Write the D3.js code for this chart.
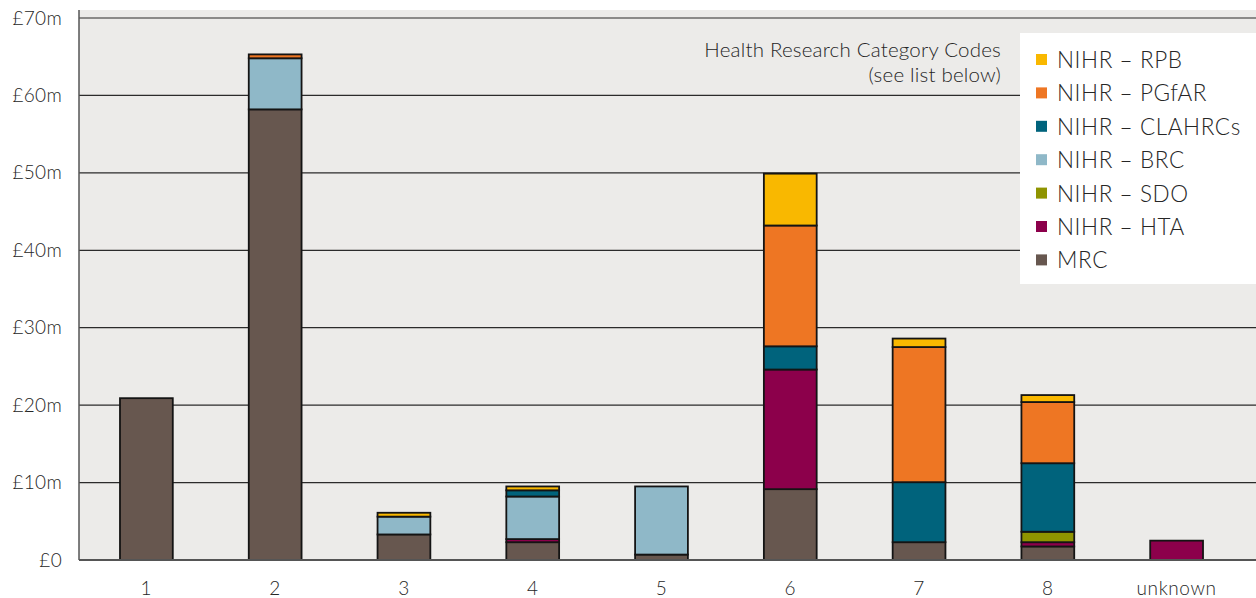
<!DOCTYPE html>
<html>
<head>
<meta charset="utf-8">
<script src="https://cdn.jsdelivr.net/npm/d3@7"></script>
<style>
  html, body { margin: 0; padding: 0; background: #ffffff; }
  svg { display: block; font-family: "Lato", "Open Sans", sans-serif; font-weight: 300; }
</style>
</head>
<body>
<svg id="chart" width="1256" height="598"></svg>
<script>
// Health Research Category Codes
const categories = ["1", "2", "3", "4", "5", "6", "7", "8", "unknown"];

// Funding streams, bottom to top of each stack (£m)
const seriesNames = ["MRC", "NIHR – HTA", "NIHR – SDO", "NIHR – BRC", "NIHR – CLAHRCs", "NIHR – PGfAR", "NIHR – RPB"];
const MRC      = [20.9, 58.2, 3.3, 2.3, 0.7, 9.15, 2.3, 1.75, 0];
const HTA      = [0,    0,    0,   0.4, 0,   15.45, 0,  0.55, 2.5];
const SDO      = [0,    0,    0,   0,   0,   0,    0,   1.35, 0];
const BRC      = [0,    6.6,  2.3, 5.5, 8.8, 0,    0,   0,    0];
const CLAHRCs  = [0,    0,    0,   0.8, 0,   3.0,  7.75, 8.85, 0];
const PGfAR    = [0,    0.5,  0,   0,   0,   15.6, 17.45, 7.9, 0];
const RPB      = [0,    0,    0.5, 0.5, 0,   6.7,  1.1,  0.9, 0];

const seriesValues = [MRC, HTA, SDO, BRC, CLAHRCs, PGfAR, RPB];
const seriesColors = ["#67574f", "#8c004b", "#8f9400", "#8fb8c8", "#00637c", "#ee7623", "#f9b800"];

const yTicks = [0, 10, 20, 30, 40, 50, 60, 70];
const yTickLabels = ["£0", "£10m", "£20m", "£30m", "£40m", "£50m", "£60m", "£70m"];

const legendOrder = ["NIHR – RPB", "NIHR – PGfAR", "NIHR – CLAHRCs", "NIHR – BRC", "NIHR – SDO", "NIHR – HTA", "MRC"];

const svg = d3.select("#chart");
const plotLeft = 79, plotRight = 1256, plotTop = 10, plotBottom = 560;
const textColor = "#262626";

const x = d3.scaleBand().domain(categories).range([82, 1241]).paddingInner(0.59).paddingOuter(0.295);
const y = d3.scaleLinear().domain([0, 70]).range([560, 18]);

// Plot background
svg.append("rect")
  .attr("x", plotLeft).attr("y", plotTop)
  .attr("width", plotRight - plotLeft).attr("height", plotBottom - plotTop)
  .attr("fill", "#ecebe9");

// Gridlines
svg.append("g")
  .selectAll("line")
  .data(yTicks.filter(d => d > 0))
  .join("line")
  .attr("x1", plotLeft).attr("x2", plotRight)
  .attr("y1", d => y(d)).attr("y2", d => y(d))
  .attr("stroke", "#2b2b2b").attr("stroke-width", 1.2);

// Stacked data
const rows = categories.map((c, i) => {
  const r = { cat: c };
  seriesNames.forEach((s, k) => r[s] = seriesValues[k][i]);
  return r;
});
const stack = d3.stack().keys(seriesNames)(rows);

const barsG = svg.append("g");
stack.forEach((layer, k) => {
  barsG.append("g")
    .attr("fill", seriesColors[k])
    .selectAll("rect")
    .data(layer.filter(d => d[1] - d[0] > 0))
    .join("rect")
    .attr("x", d => x(d.data.cat))
    .attr("width", x.bandwidth())
    .attr("y", d => y(d[1]))
    .attr("height", d => y(d[0]) - y(d[1]))
    .attr("stroke", "#141414")
    .attr("stroke-width", 1.8);
});

// Y axis
const yAxis = d3.axisLeft(y).tickValues(yTicks).tickSize(0).tickPadding(17)
  .tickFormat((d, i) => yTickLabels[i]);
const yg = svg.append("g").attr("transform", `translate(${plotLeft},0)`).call(yAxis);
yg.select(".domain").attr("stroke", "#555").attr("stroke-width", 1.5)
  .attr("d", `M0,${plotTop}V${plotBottom}`);
yg.selectAll("text").attr("font-size", 19).attr("fill", textColor)
  .attr("font-family", "Lato, sans-serif").attr("font-weight", 300)
  .attr("letter-spacing", 0.3);

// Baseline
svg.append("line")
  .attr("x1", plotLeft).attr("x2", plotRight)
  .attr("y1", y(0)).attr("y2", y(0))
  .attr("stroke", "#555").attr("stroke-width", 2);

// X axis labels
const xAxis = d3.axisBottom(x).tickSize(0).tickPadding(22);
const xg = svg.append("g").attr("transform", `translate(0,${y(0)})`).call(xAxis);
xg.select(".domain").remove();
xg.selectAll("text").attr("font-size", 19).attr("fill", textColor)
  .attr("font-family", "Lato, sans-serif").attr("font-weight", 300)
  .attr("letter-spacing", 0.6);

// Annotation
const note = svg.append("text")
  .attr("text-anchor", "end").attr("font-size", 20.5).attr("fill", textColor)
  .attr("letter-spacing", 0.2);
note.append("tspan").attr("x", 1001).attr("y", 57).text("Health Research Category Codes");
note.append("tspan").attr("x", 1001).attr("y", 82).text("(see list below)");

// Legend
const lg = svg.append("g");
lg.append("rect").attr("x", 1020).attr("y", 33).attr("width", 236).attr("height", 251).attr("fill", "#ffffff");
legendOrder.forEach((name, i) => {
  const k = seriesNames.indexOf(name);
  const cy = 60 + i * 33.4;
  lg.append("rect").attr("x", 1036).attr("y", cy - 6).attr("width", 11).attr("height", 11)
    .attr("fill", seriesColors[k]);
  lg.append("text").attr("x", 1057).attr("y", cy + 8).attr("font-size", 22.5).attr("fill", textColor)
    .attr("letter-spacing", 0.6)
    .text(name);
});
</script>
</body>
</html>
